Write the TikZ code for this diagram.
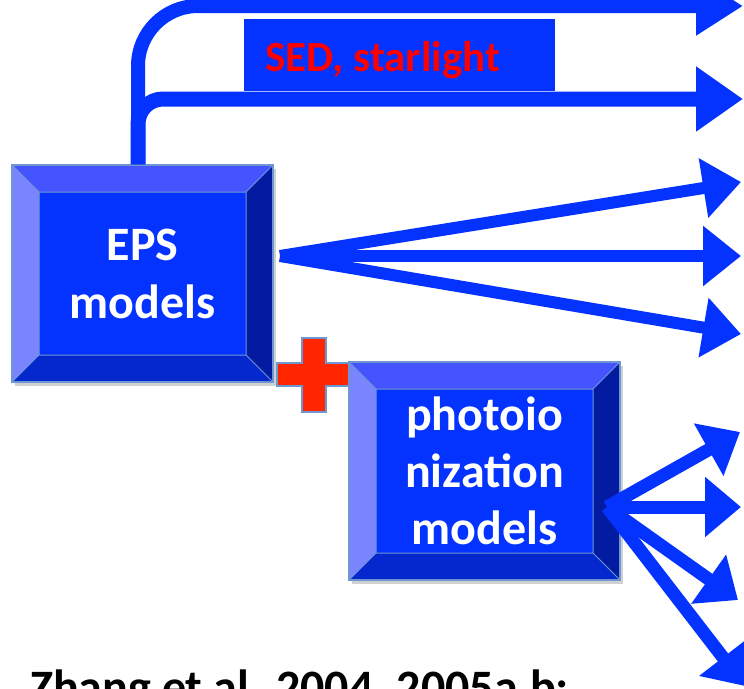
\documentclass[tikz,border=0pt]{standalone}
\usepackage{fontspec}
\setmainfont{Carlito}
\usetikzlibrary{arrows.meta,shadows}
\definecolor{pblue}{RGB}{4,51,255}
\definecolor{btop}{RGB}{70,84,255}
\definecolor{bleft}{RGB}{122,132,255}
\definecolor{bright}{RGB}{3,27,160}
\definecolor{bbottom}{RGB}{4,40,205}
\definecolor{bedge}{RGB}{110,150,210}
\definecolor{pred}{RGB}{255,38,0}
\definecolor{sedred}{RGB}{255,0,0}
\tikzset{
  bevelbox/.style={rectangle, fill=pblue, draw=bedge, line width=1.5pt, text=white,
    font=\bfseries\fontsize{48}{57}\selectfont, align=center, inner sep=0pt,
    drop shadow={shadow xshift=3pt, shadow yshift=-4pt, opacity=0.3, fill=black!60},
    path picture={
      \coordinate (pNW) at (path picture bounding box.north west);
      \coordinate (pNE) at (path picture bounding box.north east);
      \coordinate (pSW) at (path picture bounding box.south west);
      \coordinate (pSE) at (path picture bounding box.south east);
      \coordinate (iNW) at ([shift={(27pt,-27pt)}]pNW);
      \coordinate (iNE) at ([shift={(-27pt,-27pt)}]pNE);
      \coordinate (iSW) at ([shift={(27pt,27pt)}]pSW);
      \coordinate (iSE) at ([shift={(-27pt,27pt)}]pSE);
      \fill[btop] (pNW) -- (pNE) -- (iNE) -- (iNW) -- cycle;
      \fill[bleft] (pNW) -- (iNW) -- (iSW) -- (pSW) -- cycle;
      \fill[bright] (pNE) -- (iNE) -- (iSE) -- (pSE) -- cycle;
      \fill[bbottom] (pSW) -- (iSW) -- (iSE) -- (pSE) -- cycle;
      \draw[bedge, line width=1pt] (iNW) rectangle (iSE)
        (pNW) -- (iNW) (pNE) -- (iNE) (pSW) -- (iSW) (pSE) -- (iSE);
    }},
  arr/.style={draw=pblue, line width=#1, line cap=butt},
  arr/.default=13pt
}
\begin{document}
\begin{tikzpicture}[x=1pt,y=-1pt]
\clip (0,0) rectangle (744,688);
\fill[white] (0,0) rectangle (744,688);

% SED label box
\node[fill=pblue, minimum width=311pt, minimum height=72pt, inner sep=0pt] (sed) at (399.5,55) {};
\node[text=sedred, font=\bfseries\fontsize{43}{48}\selectfont, anchor=base west, inner sep=0pt] (sedt) at (265,71) {SED, starlight};

% EPS box
\node[bevelbox, minimum width=261pt, minimum height=217pt] (eps) at (142.5,273.5) {EPS\\[1pt]models};

% top arrows
\coordinate (tA) at (743,6);
\coordinate (tB) at (743,99);
\draw[arr=14pt, rounded corners=60pt, -{Triangle[length=47pt 0 0,width=56pt 0 0]}] ([xshift=-4.5pt]eps.north) |- (tA);
\draw[arr=15pt, rounded corners=25pt, -{Triangle[length=47pt 0 0,width=62pt 0 0]}] ([xshift=-4.5pt]eps.north) |- (tB);

% EPS fan arrows
\coordinate (eo) at (280,256);
\coordinate (e1) at (741,182);
\coordinate (e2) at (741,256);
\coordinate (e3) at (741,334);
\foreach \t in {e1,e2,e3}
  \draw[arr=12pt, -{Triangle[length=38pt 0 0,width=58pt 0 0]}] (eo) -- (\t);

% plus sign
\filldraw[fill=pred, draw=bedge, line width=1.5pt]
  (302,338) -- (326,338) -- (326,363) -- (350,363) -- (350,386) -- (326,386)
  -- (326,412) -- (302,412) -- (302,386) -- (277,386) -- (277,363) -- (302,363) -- cycle;

% photoionization box
\node[bevelbox, minimum width=271pt, minimum height=218pt] (photo) at (484.5,471) {photoio\\nization\\models};

% photoionization fan arrows
\coordinate (po) at (607,507);
\coordinate (p1) at (740,432);
\coordinate (p2) at (741,507);
\coordinate (p3) at (738,600);
\coordinate (p4) at (745,686);
\foreach \t in {p1,p2,p3,p4}
  \draw[arr=13pt, -{Triangle[length=36pt 0 0,width=58pt 0 0]}] (po) -- (\t);

% reference text (cut off at bottom, as in the original)
\node[anchor=base west, inner sep=0pt, font=\bfseries\fontsize{48}{56}\selectfont] (ref) at (30,703) {Zhang et al. 2004, 2005a,b;};
\end{tikzpicture}
\end{document}
